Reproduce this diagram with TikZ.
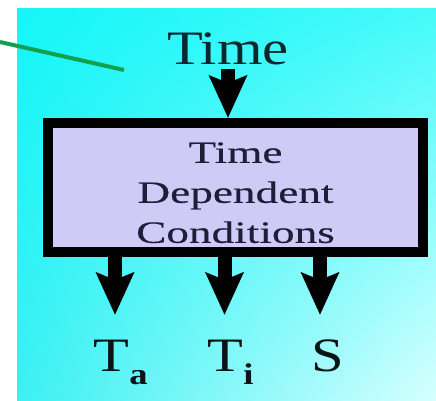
\documentclass[tikz,border=0pt]{standalone}
\usepackage{fontspec}
\setmainfont{Liberation Serif}
\newfontfamily\headfont[FakeStretch=1.22]{Liberation Serif}
\newfontfamily\condfont[FakeStretch=1.46,FakeBold=0.4]{Liberation Serif}
\usetikzlibrary{arrows.meta,positioning,shadings}

\definecolor{cyanUL}{RGB}{20,246,248}
\definecolor{cyanUR}{RGB}{70,250,250}
\definecolor{cyanLL}{RGB}{60,240,242}
\definecolor{cyanLR}{RGB}{215,255,255}
\definecolor{condfill}{RGB}{207,203,247}
\definecolor{condtext}{RGB}{30,30,56}
\definecolor{headtext}{RGB}{12,40,45}
\definecolor{outtext}{RGB}{11,20,20}
\definecolor{pointgreen}{RGB}{16,160,80}

\begin{document}
\begin{tikzpicture}[
  x=1pt, y=1pt,
  condbox/.style={rectangle, draw=black, line width=10pt, fill=condfill, minimum width=375pt, minimum height=129pt, align=center, text=condtext, font=\condfont\fontsize{31}{40}\selectfont},
  headlbl/.style={text=headtext, inner sep=4pt, font=\headfont\fontsize{48}{50}\selectfont},
  outlbl/.style={text=outtext, inner sep=0pt, anchor=base, font=\headfont\fontsize{48}{50}\selectfont},
  flow/.style={draw=black, line width=14pt, -{Stealth[length=42pt, width=37pt, inset=7pt]}},
  pointer/.style={draw=pointgreen, line width=4pt}
]
  \useasboundingbox (0,0) rectangle (436,401);
  \shade[upper left=cyanUL, upper right=cyanUR, lower left=cyanLL, lower right=cyanLR] (17,0) rectangle (436,392);

  \coordinate (ptrstart) at (0,359);
  \coordinate (ptrend) at (124,331);
  \draw[pointer] (ptrstart) -- (ptrend);

  \node[condbox] (cond) at (235.5,213.5) {\rule{0pt}{31pt}Time\\Dependent\\Conditions};
  \node[headlbl, above=49pt of cond, xshift=-7.5pt] (time) {Time};

  \node[outlbl] (ta) at (111.5,29) {T\rlap{\raisebox{-13pt}{\fontsize{30}{30}\bfseries a}}};
  \node[outlbl] (ti) at (225.5,29) {T\rlap{\raisebox{-13pt}{\fontsize{30}{30}\bfseries i}}};
  \node[outlbl] (s) at (327.5,29) {S};

  \coordinate (tipA) at (115,86);
  \coordinate (tipI) at (224.5,86);
  \coordinate (tipS) at (320,86);

  \draw[flow] (time.south) -- (time.south |- cond.north);
  \draw[flow] (cond.south -| tipA) -- (tipA);
  \draw[flow] (cond.south -| tipI) -- (tipI);
  \draw[flow] (cond.south -| tipS) -- (tipS);
\end{tikzpicture}
\end{document}
